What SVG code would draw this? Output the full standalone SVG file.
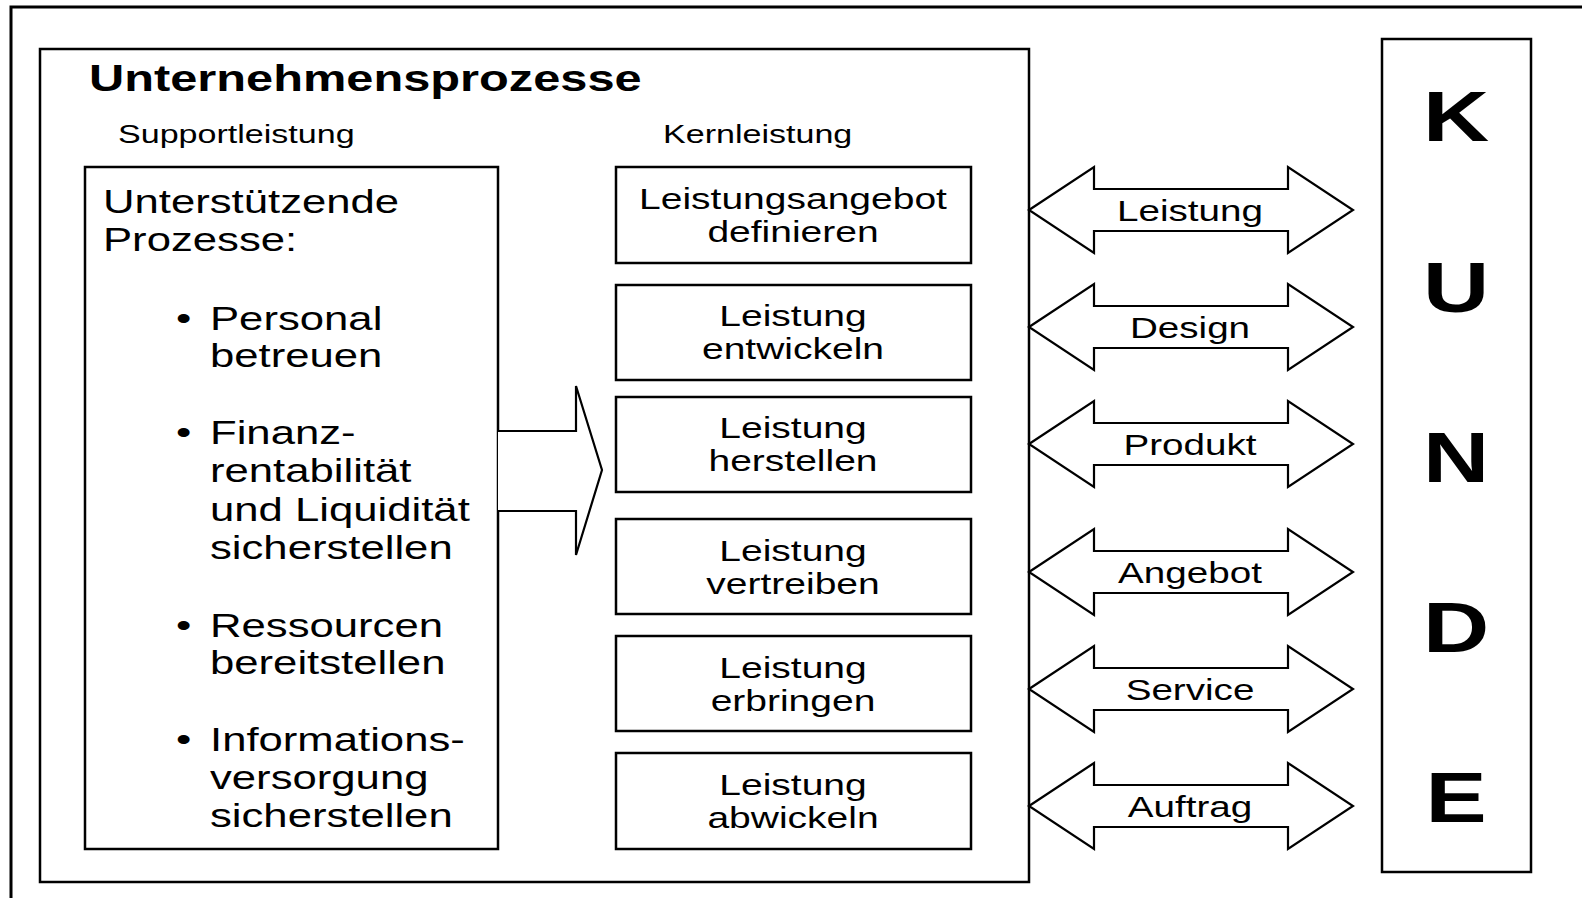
<svg xmlns="http://www.w3.org/2000/svg" xmlns:xlink="http://www.w3.org/1999/xlink" width="1582" height="898" viewBox="0 0 1582 898">
<style>
.box{fill:#fff;stroke:#000;stroke-width:2.5}
.arr{fill:#fff;stroke:#000;stroke-width:2.2;stroke-linejoin:miter}
text{font-family:"Liberation Sans",Arial,sans-serif;fill:#000}
.title{font-size:37.5px;font-weight:bold}
.sub{font-size:26.2px}
.sup{font-size:33.6px}
.core{font-size:30px;text-anchor:middle}
.lbl{font-size:29.7px;text-anchor:middle}
.kd{font-size:70.5px;font-weight:bold;text-anchor:middle}
</style>
<defs>
<path id="dbl" d="M1029,0 L1094,-43 L1094,-21 L1288,-21 L1288,-43 L1353,0 L1288,43 L1288,21 L1094,21 L1094,43 Z"/>
</defs>
<rect width="1582" height="898" fill="#fff"/>
<g id="frame">
<path d="M11,898 V7 H1582" fill="none" stroke="#000" stroke-width="3"/>
</g>
<g id="unternehmensprozesse">
<rect class="box" x="40" y="49" width="989" height="833"/>
<text class="title" transform="translate(89,91) scale(1.3,1)">Unternehmensprozesse</text>
<text class="sub" transform="translate(118,143) scale(1.3,1)">Supportleistung</text>
<text class="sub" transform="translate(663,143) scale(1.3,1)">Kernleistung</text>
</g>
<g id="support">
<rect class="box" x="85" y="167" width="413" height="682"/>
<text class="sup" transform="translate(103,213) scale(1.3,1)">Unterstützende</text>
<text class="sup" transform="translate(103,251) scale(1.3,1)">Prozesse:</text>
<text class="sup" transform="translate(176,330) scale(1.3,1)">•</text>
<text class="sup" transform="translate(210,330) scale(1.3,1)">Personal</text>
<text class="sup" transform="translate(210,367) scale(1.3,1)">betreuen</text>
<text class="sup" transform="translate(176,444) scale(1.3,1)">•</text>
<text class="sup" transform="translate(210,444) scale(1.3,1)">Finanz-</text>
<text class="sup" transform="translate(210,482) scale(1.3,1)">rentabilität</text>
<text class="sup" transform="translate(210,521) scale(1.3,1)">und Liquidität</text>
<text class="sup" transform="translate(210,559) scale(1.3,1)">sicherstellen</text>
<text class="sup" transform="translate(176,637) scale(1.3,1)">•</text>
<text class="sup" transform="translate(210,637) scale(1.3,1)">Ressourcen</text>
<text class="sup" transform="translate(210,674) scale(1.3,1)">bereitstellen</text>
<text class="sup" transform="translate(176,751) scale(1.3,1)">•</text>
<text class="sup" transform="translate(210,751) scale(1.3,1)">Informations-</text>
<text class="sup" transform="translate(210,789) scale(1.3,1)">versorgung</text>
<text class="sup" transform="translate(210,827) scale(1.3,1)">sicherstellen</text>
</g>
<g id="core1">
<rect class="box" x="616" y="167" width="355" height="96"/>
<text class="core" transform="translate(793,209) scale(1.3,1)">Leistungsangebot</text>
<text class="core" transform="translate(793,242) scale(1.3,1)">definieren</text>
</g>
<g id="core2">
<rect class="box" x="616" y="285" width="355" height="95"/>
<text class="core" transform="translate(793,326) scale(1.3,1)">Leistung</text>
<text class="core" transform="translate(793,359) scale(1.3,1)">entwickeln</text>
</g>
<g id="core3">
<rect class="box" x="616" y="397" width="355" height="95"/>
<text class="core" transform="translate(793,438) scale(1.3,1)">Leistung</text>
<text class="core" transform="translate(793,471) scale(1.3,1)">herstellen</text>
</g>
<g id="core4">
<rect class="box" x="616" y="519" width="355" height="95"/>
<text class="core" transform="translate(793,561) scale(1.3,1)">Leistung</text>
<text class="core" transform="translate(793,594) scale(1.3,1)">vertreiben</text>
</g>
<g id="core5">
<rect class="box" x="616" y="636" width="355" height="95"/>
<text class="core" transform="translate(793,678) scale(1.3,1)">Leistung</text>
<text class="core" transform="translate(793,711) scale(1.3,1)">erbringen</text>
</g>
<g id="core6">
<rect class="box" x="616" y="753" width="355" height="96"/>
<text class="core" transform="translate(793,795) scale(1.3,1)">Leistung</text>
<text class="core" transform="translate(793,828) scale(1.3,1)">abwickeln</text>
</g>
<g id="kunde">
<rect class="box" x="1382" y="39" width="149" height="833"/>
<text class="kd" transform="translate(1456,141) scale(1.3,1)">K</text>
<text class="kd" transform="translate(1456,312) scale(1.3,1)">U</text>
<text class="kd" transform="translate(1456,482) scale(1.3,1)">N</text>
<text class="kd" transform="translate(1456,652) scale(1.3,1)">D</text>
<text class="kd" transform="translate(1456,822) scale(1.3,1)">E</text>
</g>
<g id="connectors">
<path class="arr" d="M498,431 H576 V386 L602,470 L576,555 V511 H498"/>
<use xlink:href="#dbl" class="arr" transform="translate(0,210)"/>
<use xlink:href="#dbl" class="arr" transform="translate(0,327)"/>
<use xlink:href="#dbl" class="arr" transform="translate(0,444)"/>
<use xlink:href="#dbl" class="arr" transform="translate(0,572)"/>
<use xlink:href="#dbl" class="arr" transform="translate(0,689)"/>
<use xlink:href="#dbl" class="arr" transform="translate(0,806)"/>
<text class="lbl" transform="translate(1190,221) scale(1.3,1)">Leistung</text>
<text class="lbl" transform="translate(1190,338) scale(1.3,1)">Design</text>
<text class="lbl" transform="translate(1190,455) scale(1.3,1)">Produkt</text>
<text class="lbl" transform="translate(1190,583) scale(1.3,1)">Angebot</text>
<text class="lbl" transform="translate(1190,700) scale(1.3,1)">Service</text>
<text class="lbl" transform="translate(1190,817) scale(1.3,1)">Auftrag</text>
</g>
</svg>
